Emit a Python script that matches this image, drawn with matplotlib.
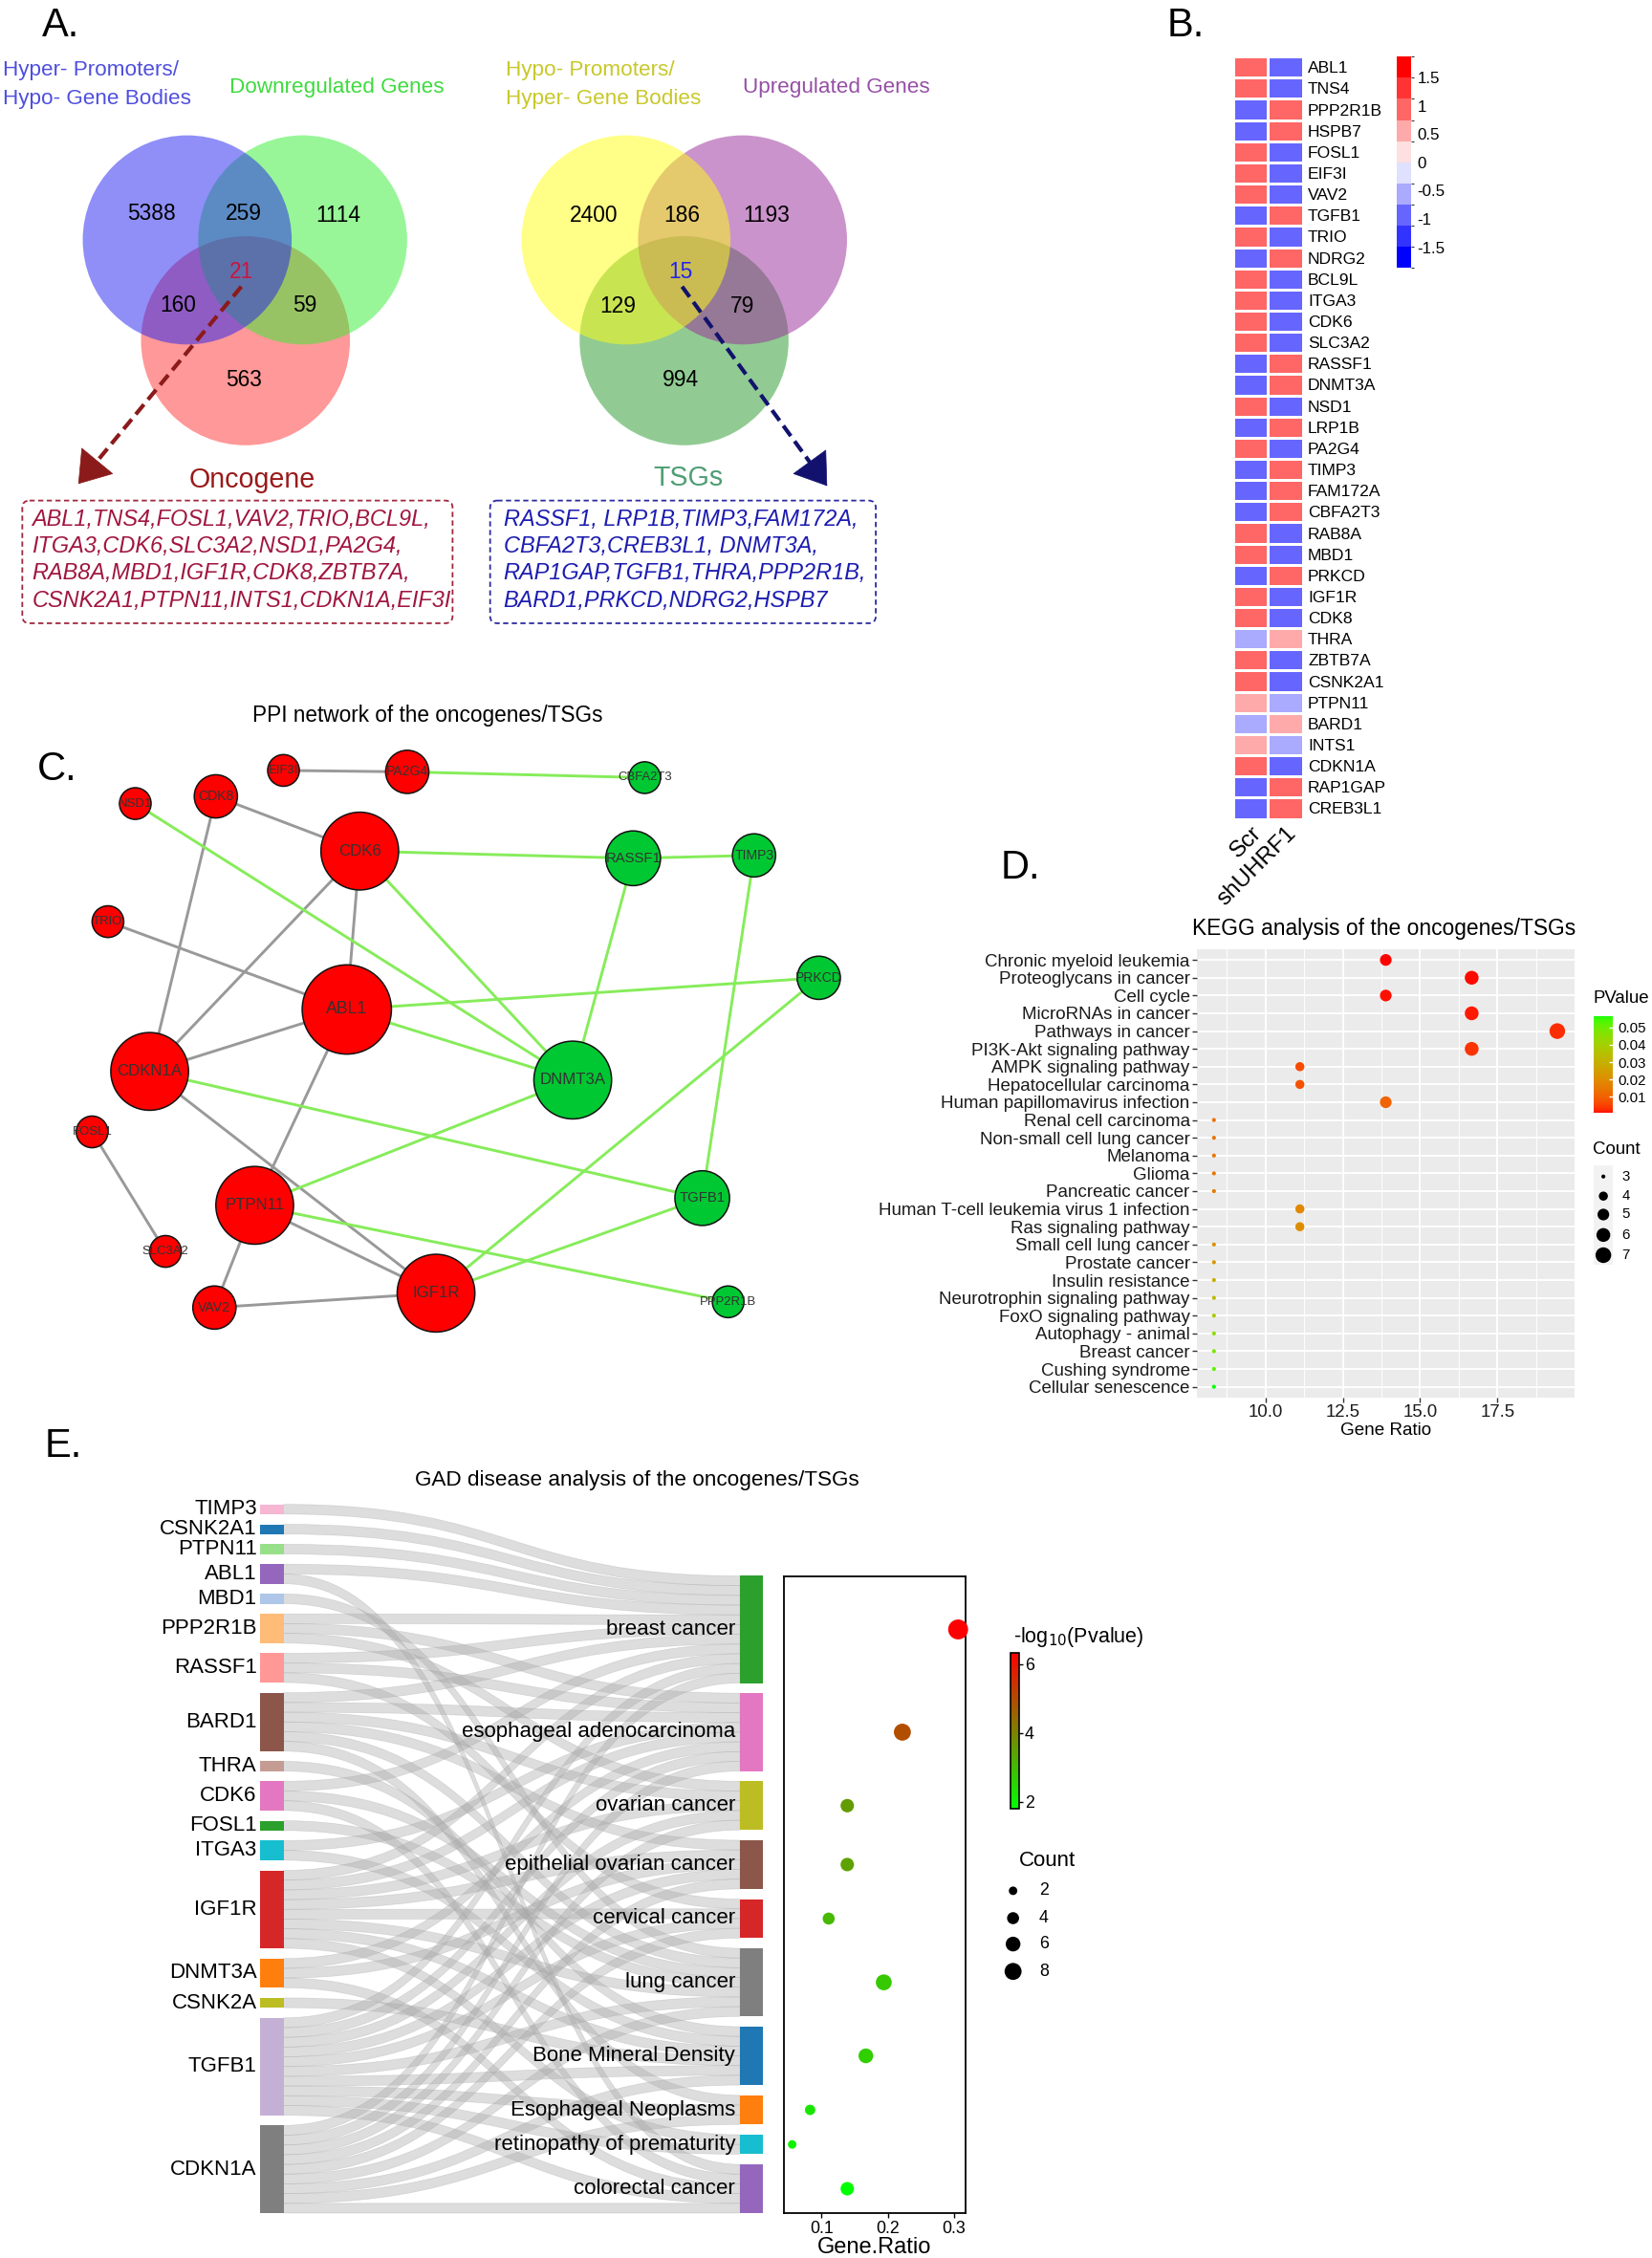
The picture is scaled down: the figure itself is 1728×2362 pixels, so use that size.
import numpy as np
import matplotlib
matplotlib.use("Agg")
import matplotlib.pyplot as plt
from matplotlib.patches import Circle, FancyBboxPatch, Rectangle, PathPatch, FancyArrowPatch
from matplotlib.path import Path
from matplotlib.colors import ListedColormap, BoundaryNorm, Normalize, LinearSegmentedColormap, to_rgb
import matplotlib.cm as cm

plt.rcParams['font.family'] = ['Liberation Sans', 'DejaVu Sans']
plt.rcParams['axes.unicode_minus'] = False

# ======================= DATA =======================
# ---- Panel A (Venn) ----
venn_left_counts = [5388, 259, 1114, 160, 21, 59, 563]   # A, AB, B, AC, ABC, BC, C
venn_right_counts = [2400, 186, 1193, 129, 15, 79, 994]
venn_left_sets = ["Hyper- Promoters/", "Hypo- Gene Bodies", "Downregulated Genes", "Oncogene"]
venn_right_sets = ["Hypo- Promoters/", "Hyper- Gene Bodies", "Upregulated Genes", "TSGs"]
oncogene_lines = ["ABL1,TNS4,FOSL1,VAV2,TRIO,BCL9L,",
                  "ITGA3,CDK6,SLC3A2,NSD1,PA2G4,",
                  "RAB8A,MBD1,IGF1R,CDK8,ZBTB7A,",
                  "CSNK2A1,PTPN11,INTS1,CDKN1A,EIF3I"]
tsg_lines = ["RASSF1, LRP1B,TIMP3,FAM172A,",
             "CBFA2T3,CREB3L1, DNMT3A,",
             "RAP1GAP,TGFB1,THRA,PPP2R1B,",
             "BARD1,PRKCD,NDRG2,HSPB7"]

# ---- Panel B (heatmap) ----
heat_genes = ["ABL1", "TNS4", "PPP2R1B", "HSPB7", "FOSL1", "EIF3I", "VAV2", "TGFB1", "TRIO",
              "NDRG2", "BCL9L", "ITGA3", "CDK6", "SLC3A2", "RASSF1", "DNMT3A", "NSD1", "LRP1B",
              "PA2G4", "TIMP3", "FAM172A", "CBFA2T3", "RAB8A", "MBD1", "PRKCD", "IGF1R", "CDK8",
              "THRA", "ZBTB7A", "CSNK2A1", "PTPN11", "BARD1", "INTS1", "CDKN1A", "RAP1GAP", "CREB3L1"]
heat_scr = [0.95, 0.95, -0.95, -0.95, 0.95, 0.95, 0.95, -0.95, 0.95,
            -0.95, 0.95, 0.95, 0.95, 0.95, -0.95, -0.95, 0.95, -0.95,
            0.95, -0.95, -0.95, -0.95, 0.95, 0.95, -0.95, 0.95, 0.95,
            -0.55, 0.95, 0.95, 0.55, -0.55, 0.55, 0.95, -0.95, -0.95]
heat_sh = [-0.95, -0.95, 0.95, 0.95, -0.95, -0.95, -0.95, 0.95, -0.95,
           0.95, -0.95, -0.95, -0.95, -0.95, 0.95, 0.95, -0.95, 0.95,
           -0.95, 0.95, 0.95, 0.95, -0.95, -0.95, 0.95, -0.95, -0.95,
           0.55, -0.95, -0.95, -0.55, 0.55, -0.55, -0.95, 0.95, 0.95]
heat_samples = ["Scr", "shUHRF1"]
heat_ticks = [1.5, 1, 0.5, 0, -0.5, -1, -1.5]

# ---- Panel C (PPI network) ----
ppi_nodes = ["EIF3I", "PA2G4", "CBFA2T3", "NSD1", "CDK8", "CDK6", "RASSF1", "TIMP3", "TRIO", "PRKCD",
             "ABL1", "CDKN1A", "DNMT3A", "FOSL1", "TGFB1", "PTPN11", "SLC3A2", "PPP2R1B", "VAV2", "IGF1R"]
ppi_type = ["onc", "onc", "tsg", "onc", "onc", "onc", "tsg", "tsg", "onc", "tsg",
            "onc", "onc", "tsg", "onc", "tsg", "onc", "onc", "tsg", "onc", "onc"]
ppi_x = [197, 283, 448, 94, 150, 250, 440, 524, 75, 569, 241, 104, 398, 64, 488, 177, 115, 506, 149, 303]
ppi_y = [535, 536, 540, 558, 553, 591, 596, 594, 640, 679, 701, 744, 750, 786, 832, 837, 869, 904, 908, 898]
ppi_edges = [("EIF3I", "PA2G4"), ("CDK8", "CDK6"), ("CDK8", "CDKN1A"), ("CDK6", "ABL1"), ("CDK6", "CDKN1A"),
             ("TRIO", "ABL1"), ("ABL1", "CDKN1A"), ("ABL1", "PTPN11"), ("CDKN1A", "IGF1R"), ("FOSL1", "SLC3A2"),
             ("PTPN11", "IGF1R"), ("PTPN11", "VAV2"), ("VAV2", "IGF1R"),
             ("PA2G4", "CBFA2T3"), ("NSD1", "DNMT3A"), ("CDK6", "RASSF1"), ("CDK6", "DNMT3A"),
             ("RASSF1", "TIMP3"), ("RASSF1", "DNMT3A"), ("TIMP3", "TGFB1"), ("ABL1", "PRKCD"),
             ("ABL1", "DNMT3A"), ("CDKN1A", "TGFB1"), ("DNMT3A", "PTPN11"), ("PRKCD", "IGF1R"),
             ("TGFB1", "IGF1R"), ("PTPN11", "PPP2R1B")]

# ---- Panel D (KEGG) ----
kegg_terms = ["Chronic myeloid leukemia", "Proteoglycans in cancer", "Cell cycle", "MicroRNAs in cancer",
              "Pathways in cancer", "PI3K-Akt signaling pathway", "AMPK signaling pathway",
              "Hepatocellular carcinoma", "Human papillomavirus infection", "Renal cell carcinoma",
              "Non-small cell lung cancer", "Melanoma", "Glioma", "Pancreatic cancer",
              "Human T-cell leukemia virus 1 infection", "Ras signaling pathway", "Small cell lung cancer",
              "Prostate cancer", "Insulin resistance", "Neurotrophin signaling pathway",
              "FoxO signaling pathway", "Autophagy - animal", "Breast cancer", "Cushing syndrome",
              "Cellular senescence"]
kegg_count = [5, 6, 5, 6, 7, 6, 4, 4, 5, 3, 3, 3, 3, 3, 4, 4, 3, 3, 3, 3, 3, 3, 3, 3, 3]
kegg_ratio = [13.89, 16.67, 13.89, 16.67, 19.44, 16.67, 11.11, 11.11, 13.89, 8.33, 8.33, 8.33, 8.33,
              8.33, 11.11, 11.11, 8.33, 8.33, 8.33, 8.33, 8.33, 8.33, 8.33, 8.33, 8.33]
kegg_p = [0.0006, 0.0009, 0.0012, 0.0016, 0.0030, 0.0035, 0.0065, 0.0075, 0.0105, 0.0135, 0.0140,
          0.0145, 0.0150, 0.0155, 0.0190, 0.0200, 0.0210, 0.0230, 0.0290, 0.0330, 0.0390, 0.0440,
          0.0480, 0.0520, 0.0567]
kegg_size_legend = [3, 4, 5, 6, 7]
kegg_p_ticks = [0.01, 0.02, 0.03, 0.04, 0.05]

# ---- Panel E (GAD) ----
gad_genes = ["TIMP3", "CSNK2A1", "PTPN11", "ABL1", "MBD1", "PPP2R1B", "RASSF1", "BARD1", "THRA", "CDK6",
             "FOSL1", "ITGA3", "IGF1R", "DNMT3A", "CSNK2A", "TGFB1", "CDKN1A"]
gad_gene_colors = ["#f7b6d2", "#1f77b4", "#98df8a", "#9467bd", "#aec7e8", "#ffbb78", "#ff9896", "#8c564b",
                   "#c49c94", "#e377c2", "#2ca02c", "#17becf", "#d62728", "#ff7f0e", "#bcbd22", "#c5b0d5",
                   "#7f7f7f"]
gad_diseases = ["breast cancer", "esophageal adenocarcinoma", "ovarian cancer", "epithelial ovarian cancer",
                "cervical cancer", "lung cancer", "Bone Mineral Density", "Esophageal Neoplasms",
                "retinopathy of prematurity", "colorectal cancer"]
gad_disease_colors = ["#2ca02c", "#e377c2", "#bcbd22", "#8c564b", "#d62728", "#7f7f7f", "#1f77b4",
                      "#ff7f0e", "#17becf", "#9467bd"]
gad_links = [("TIMP3", "breast cancer"), ("CSNK2A1", "breast cancer"), ("PTPN11", "breast cancer"),
             ("ABL1", "breast cancer"), ("ABL1", "colorectal cancer"), ("MBD1", "lung cancer"),
             ("PPP2R1B", "breast cancer"), ("PPP2R1B", "esophageal adenocarcinoma"), ("PPP2R1B", "ovarian cancer"),
             ("RASSF1", "breast cancer"), ("RASSF1", "esophageal adenocarcinoma"), ("RASSF1", "cervical cancer"),
             ("BARD1", "breast cancer"), ("BARD1", "esophageal adenocarcinoma"), ("BARD1", "ovarian cancer"),
             ("BARD1", "epithelial ovarian cancer"), ("BARD1", "lung cancer"), ("BARD1", "Esophageal Neoplasms"),
             ("THRA", "Bone Mineral Density"),
             ("CDK6", "breast cancer"), ("CDK6", "lung cancer"), ("CDK6", "colorectal cancer"),
             ("FOSL1", "lung cancer"),
             ("ITGA3", "esophageal adenocarcinoma"), ("ITGA3", "Bone Mineral Density"),
             ("IGF1R", "breast cancer"), ("IGF1R", "esophageal adenocarcinoma"), ("IGF1R", "ovarian cancer"),
             ("IGF1R", "epithelial ovarian cancer"), ("IGF1R", "cervical cancer"), ("IGF1R", "lung cancer"),
             ("IGF1R", "Bone Mineral Density"), ("IGF1R", "retinopathy of prematurity"),
             ("DNMT3A", "esophageal adenocarcinoma"), ("DNMT3A", "epithelial ovarian cancer"),
             ("DNMT3A", "colorectal cancer"),
             ("CSNK2A", "Bone Mineral Density"),
             ("TGFB1", "breast cancer"), ("TGFB1", "esophageal adenocarcinoma"), ("TGFB1", "ovarian cancer"),
             ("TGFB1", "epithelial ovarian cancer"), ("TGFB1", "cervical cancer"), ("TGFB1", "lung cancer"),
             ("TGFB1", "Bone Mineral Density"), ("TGFB1", "Esophageal Neoplasms"),
             ("TGFB1", "retinopathy of prematurity"), ("TGFB1", "colorectal cancer"),
             ("CDKN1A", "breast cancer"), ("CDKN1A", "esophageal adenocarcinoma"), ("CDKN1A", "ovarian cancer"),
             ("CDKN1A", "epithelial ovarian cancer"), ("CDKN1A", "cervical cancer"), ("CDKN1A", "lung cancer"),
             ("CDKN1A", "Bone Mineral Density"), ("CDKN1A", "Esophageal Neoplasms"),
             ("CDKN1A", "colorectal cancer")]
gad_count = [11, 8, 5, 5, 4, 7, 6, 3, 2, 5]
gad_ratio = [0.306, 0.222, 0.139, 0.139, 0.111, 0.194, 0.167, 0.083, 0.056, 0.139]
gad_neglogp = [6.34, 4.95, 3.55, 3.45, 3.05, 2.75, 2.65, 2.25, 2.05, 1.79]
gad_size_legend = [2, 4, 6, 8]
gad_p_ticks = [2, 4, 6]

# ======================= LAYOUT HELPERS =======================
W, H = 1148.0, 1568.0          # layout units (1 unit = 1728/1148 px)


def rect(x0, y0, x1, y1):
    return [x0 / W, 1 - y1 / H, (x1 - x0) / W, (y1 - y0) / H]


def _lin(c):
    c = np.asarray(c, float)
    return np.where(c <= 0.04045, c / 12.92, ((c + 0.055) / 1.055) ** 2.4)


def _gam(c):
    c = np.clip(c, 0, None)
    return np.where(c <= 0.0031308, 12.92 * c, 1.055 * np.power(c, 1 / 2.4) - 0.055)


_M = np.array([[0.4124564, 0.3575761, 0.1804375], [0.2126729, 0.7151522, 0.0721750],
               [0.0193339, 0.1191920, 0.9503041]])
_WT = np.array([0.95047, 1.0, 1.08883])


def rgb2lab(rgb):
    xyz = _M @ _lin(rgb) / _WT
    f = np.where(xyz > 0.008856, np.cbrt(xyz), 7.787 * xyz + 16 / 116)
    return np.array([116 * f[1] - 16, 500 * (f[0] - f[1]), 200 * (f[1] - f[2])])


def lab2rgb(lab):
    L, a, b = lab
    fy = (L + 16) / 116
    f = np.array([fy + a / 500, fy, fy - b / 200])
    xyz = np.where(f ** 3 > 0.008856, f ** 3, (f - 16 / 116) / 7.787) * _WT
    rgb = np.linalg.solve(_M, xyz)
    return np.clip(_gam(rgb), 0, 1)


def lab_cmap(c0, c1, n=256):
    l0, l1 = rgb2lab(np.array(to_rgb(c0))), rgb2lab(np.array(to_rgb(c1)))
    return ListedColormap([lab2rgb(l0 + (l1 - l0) * t) for t in np.linspace(0, 1, n)])


fig = plt.figure(figsize=(17.28, 23.62), dpi=100)
ov = fig.add_axes([0, 0, 1, 1])
ov.set_xlim(0, W)
ov.set_ylim(H, 0)
ov.axis('off')

# panel letters
for lab, x, y in [("A.", 29, 25), ("B.", 811, 25), ("C.", 26, 542), ("D.", 695, 610), ("E.", 31, 1012)]:
    ov.text(x, y, lab, fontsize=30, ha='left', va='baseline', color='black')

# ======================= PANEL A =======================
R = 72.6
venn_layouts = [
    dict(centers=[(130.1, 166.6), (210.3, 166.6), (170.6, 236.6)],
         fills=[("#2121F0", 0.5), ("#33EE33", 0.5), ("#FF3333", 0.5)], order=[2, 1, 0],
         pos=[(105.2, 148.6), (169.4, 148.6), (234.8, 149.4), (124, 212), (167.7, 189), (212, 212), (169.4, 264)],
         counts=venn_left_counts, center_color="#CC1440",
         labels=[(1.8, 49, "#4F4FDF"), (1.8, 68.4, "#4F4FDF"), (159.5, 60.6, "#3EDB3E")],
         names=venn_left_sets, title_pos=(175, 333), title_color="#9A1A1A",
         arrow=((167.7, 199), (53.2, 337.5)), arrow_color="#8B1A1A",
         box=(15.5, 347.6, 314.5, 432.8), box_color="#A0283C", text_x=22.2, text_color="#A0163F",
         lines=oncogene_lines),
    dict(centers=[(435.0, 166.6), (516.0, 166.6), (475.4, 236.6)],
         fills=[("#FFFF10", 0.5), ("#992999", 0.5), ("#249928", 0.5)], order=[2, 1, 0],
         pos=[(412.4, 150), (474, 150), (532.7, 150), (429.2, 213), (472.9, 189), (516, 213), (472.9, 264)],
         counts=venn_right_counts, center_color="#2222EE",
         labels=[(351.7, 49, "#C8C82A"), (351.7, 68.4, "#C8C82A"), (516, 60.6, "#9550A5")],
         names=venn_right_sets, title_pos=(478.4, 332), title_color="#4E9E74",
         arrow=((474, 199), (575.9, 339)), arrow_color="#12126E",
         box=(340.6, 347.6, 608.6, 432.8), box_color="#2B2BA0", text_x=349.9, text_color="#1C1CB0",
         lines=tsg_lines),
]
for v in venn_layouts:
    for k in v['order']:
        c, a = v['fills'][k]
        ov.add_patch(Circle(v['centers'][k], R, facecolor=c, alpha=a, edgecolor='none', zorder=2))
    for i, ((x, y), n) in enumerate(zip(v['pos'], v['counts'])):
        ov.text(x, y, str(n), fontsize=16.4, ha='center', va='center', zorder=5,
                color=v['center_color'] if i == 4 else 'black')
    for (x, y, col), name in zip(v['labels'], v['names'][:3]):
        ov.text(x, y, name, fontsize=16.2, ha='left', va='center', color=col)
    ov.text(v['title_pos'][0], v['title_pos'][1], v['names'][3], fontsize=20.6, ha='center', va='center',
            color=v['title_color'])
    (sx, sy), (tx, ty) = v['arrow']
    dx, dy = tx - sx, ty - sy
    L = np.hypot(dx, dy)
    ex, ey = tx - dx / L * 14, ty - dy / L * 14
    ov.plot([sx, ex], [sy, ey], color=v['arrow_color'], lw=3.0, linestyle=(0, (3.2, 1.6)),
            solid_capstyle='butt', zorder=6)
    ov.add_patch(FancyArrowPatch((tx - dx / L * 22, ty - dy / L * 22), (tx, ty),
                                 arrowstyle='-|>,head_length=1.1,head_width=0.75', mutation_scale=20,
                                 color=v['arrow_color'], lw=0.5, zorder=7))
    x0, y0, x1, y1 = v['box']
    ov.add_patch(FancyBboxPatch((x0, y0), x1 - x0, y1 - y0, boxstyle='round,pad=0,rounding_size=5',
                                facecolor='none', edgecolor=v['box_color'], lw=1.3,
                                linestyle=(0, (3, 2))))
    for j, line in enumerate(v['lines']):
        ov.text(v['text_x'], 360.6 + 18.77 * j, line, fontsize=16.9, style='italic', ha='left',
                va='center', color=v['text_color'])

# ======================= PANEL B =======================
hb_cols = ['#0000FF', '#3333FF', '#6666FF', '#AAAAFF', '#E0E0FF',
           '#FFE0E0', '#FFAAAA', '#FF6666', '#FF3333', '#FF0000']
hb_cmap = ListedColormap(hb_cols)
hb_bounds = np.linspace(-1.87, 1.87, 11)
hb_norm = BoundaryNorm(hb_bounds, hb_cmap.N)
axh = fig.add_axes(rect(857.2, 39.3, 905.2, 568.6))
vals = np.column_stack([heat_scr, heat_sh])
axh.pcolormesh(vals, cmap=hb_cmap, norm=hb_norm, edgecolors='white', linewidth=0.9)
axh.set_xlim(0, 2)
axh.set_ylim(len(heat_genes), 0)
for s in axh.spines.values():
    s.set_visible(False)
axh.yaxis.tick_right()
axh.set_yticks(np.arange(len(heat_genes)) + 0.5)
axh.set_yticklabels(heat_genes, fontsize=12.6)
axh.set_xticks([0.5, 1.5])
axh.set_xticklabels(heat_samples, fontsize=17.5, rotation=45, ha='right', rotation_mode='anchor')
axh.tick_params(length=0, pad=4)
axh.tick_params(axis='x', pad=3)
caxh = fig.add_axes(rect(970.8, 39.3, 980.8, 186.2))
cbh = fig.colorbar(cm.ScalarMappable(norm=hb_norm, cmap=hb_cmap), cax=caxh, ticks=heat_ticks)
cbh.outline.set_visible(False)
cbh.set_ticklabels([("%g" % t) for t in heat_ticks])
caxh.tick_params(length=0, labelsize=12.2, pad=4.5)

# ======================= PANEL C =======================
ov.text(296.8, 497, "PPI network of the oncogenes/TSGs", fontsize=16.3, ha='center', va='center')
idx = {n: i for i, n in enumerate(ppi_nodes)}
deg = {n: 0 for n in ppi_nodes}
for a, b in ppi_edges:
    deg[a] += 1
    deg[b] += 1
for a, b in ppi_edges:
    ia, ib = idx[a], idx[b]
    col = '#999999' if (ppi_type[ia] == 'onc' and ppi_type[ib] == 'onc') else '#86EC5A'
    ov.plot([ppi_x[ia], ppi_x[ib]], [ppi_y[ia], ppi_y[ib]], color=col, lw=2.1, zorder=3,
            solid_capstyle='round')
for i, n in enumerate(ppi_nodes):
    r = 7 + 4 * deg[n]
    fc = '#FF0000' if ppi_type[i] == 'onc' else '#00C832'
    ov.add_patch(Circle((ppi_x[i], ppi_y[i]), r, facecolor=fc, edgecolor='#111111', lw=1.1, zorder=4))
    ov.text(ppi_x[i], ppi_y[i], n, fontsize=8.8 + 0.65 * deg[n], ha='center', va='center',
            color='#333333', zorder=5)

# ======================= PANEL D =======================
ov.text(961.8, 645, "KEGG analysis of the oncogenes/TSGs", fontsize=16.4, ha='center', va='center')
axk = fig.add_axes(rect(832, 659.2, 1094, 970.4))
axk.set_facecolor('#EBEBEB')
for s in axk.spines.values():
    s.set_visible(False)
kegg_cmap = lab_cmap('#FF0000', '#00FF00')
kegg_norm = Normalize(vmin=min(kegg_p), vmax=max(kegg_p))


def kegg_size(c):
    c = np.asarray(c, float)
    d = 3.0 + (11.8 - 3.0) * ((c - 3) / 4.0) ** 0.6
    return d ** 2


ny = len(kegg_terms)
yy = np.arange(ny)
axk.set_xlim(7.79, 19.99)
axk.set_ylim(ny - 0.4, -0.6)
axk.set_xticks([10, 12.5, 15, 17.5])
axk.set_xticklabels(["10.0", "12.5", "15.0", "17.5"])
axk.set_xticks([8.75, 11.25, 13.75, 16.25, 18.75], minor=True)
axk.set_yticks(yy)
axk.set_yticklabels(kegg_terms)
axk.grid(which='major', color='white', lw=1.3)
axk.grid(which='minor', axis='x', color='white', lw=0.65)
axk.set_axisbelow(True)
axk.tick_params(which='major', length=3.5, width=1, color='#333333', labelsize=13.4, labelcolor='#1a1a1a',
                pad=2)
axk.tick_params(axis='y', labelsize=13.5)
axk.tick_params(which='minor', length=0)
axk.scatter(kegg_ratio, yy, s=kegg_size(kegg_count), c=kegg_p, cmap=kegg_cmap, norm=kegg_norm,
            edgecolors='none', zorder=3)
axk.set_xlabel("Gene Ratio", fontsize=13.6, labelpad=1)
# PValue legend
ov.text(1107, 693.5, "PValue", fontsize=13.4, ha='left', va='center')
caxk = fig.add_axes(rect(1107.5, 705.4, 1120.5, 773))
cbk = fig.colorbar(cm.ScalarMappable(norm=kegg_norm, cmap=kegg_cmap), cax=caxk, ticks=kegg_p_ticks)
cbk.outline.set_visible(False)
cbk.set_ticklabels(["%.2f" % t for t in kegg_p_ticks])
caxk.tick_params(length=3, width=1, color='white', direction='in', labelsize=10.8, pad=4.5)
# Count legend
ov.text(1107, 798.5, "Count", fontsize=13.4, ha='left', va='center')
ov.add_patch(Rectangle((1107.5, 809.5), 13.5, 68.5, facecolor='#F2F2F2', edgecolor='none'))
ky = [817, 830.6, 843.4, 857.6, 871.6]
ov.scatter([1114.2] * len(kegg_size_legend), ky, s=kegg_size(kegg_size_legend), c='black',
           edgecolors='none', zorder=5)
for yv, c in zip(ky, kegg_size_legend):
    ov.text(1127, yv, str(c), fontsize=10.8, ha='left', va='center')

# ======================= PANEL E =======================
ov.text(442.5, 1028, "GAD disease analysis of the oncogenes/TSGs", fontsize=16.2, ha='center', va='center')
U = 6.76
GAP = 7.1
BOTTOM = 1536.8
LX0, LX1, RX0, RX1 = 181.0, 197.0, 514.0, 530.0
gcount = {g: sum(1 for l in gad_links if l[0] == g) for g in gad_genes}
dcount = {d: sum(1 for l in gad_links if l[1] == d) for d in gad_diseases}
ltop = BOTTOM - len(gad_links) * U - (len(gad_genes) - 1) * GAP
rtop = BOTTOM - len(gad_links) * U - (len(gad_diseases) - 1) * GAP
gy0, y = {}, ltop
for g in gad_genes:
    gy0[g] = y
    y += gcount[g] * U + GAP
dy0, y = {}, rtop
for d in gad_diseases:
    dy0[d] = y
    y += dcount[d] * U + GAP
gi = {g: i for i, g in enumerate(gad_genes)}
di = {d: i for i, d in enumerate(gad_diseases)}
s_off, t_off = {}, {}
for g in gad_genes:
    o = gy0[g]
    for l in sorted([l for l in gad_links if l[0] == g], key=lambda l: di[l[1]]):
        s_off[l] = o
        o += U
for d in gad_diseases:
    o = dy0[d]
    for l in sorted([l for l in gad_links if l[1] == d], key=lambda l: gi[l[0]]):
        t_off[l] = o
        o += U
xm = (LX1 + RX0) / 2
for l in gad_links:
    sy, ty = s_off[l], t_off[l]
    verts = [(LX1, sy), (xm, sy), (xm, ty), (RX0, ty), (RX0, ty + U), (xm, ty + U), (xm, sy + U), (LX1, sy + U),
             (LX1, sy)]
    codes = [Path.MOVETO, Path.CURVE4, Path.CURVE4, Path.CURVE4, Path.LINETO, Path.CURVE4, Path.CURVE4,
             Path.CURVE4, Path.CLOSEPOLY]
    ov.add_patch(PathPatch(Path(verts, codes), facecolor='#a8a8a8', alpha=0.38, edgecolor='#a8a8a8',
                           lw=0.5, zorder=2))
for g, col in zip(gad_genes, gad_gene_colors):
    h = gcount[g] * U
    ov.add_patch(Rectangle((LX0, gy0[g]), LX1 - LX0, h, facecolor=col, edgecolor='none', zorder=3))
    ov.text(LX0 - 2.5, gy0[g] + h / 2, g, fontsize=16, ha='right', va='center', zorder=4)
dcenter = []
for d, col in zip(gad_diseases, gad_disease_colors):
    h = dcount[d] * U
    ov.add_patch(Rectangle((RX0, dy0[d]), RX1 - RX0, h, facecolor=col, edgecolor='none', zorder=3))
    ov.text(RX0 - 3, dy0[d] + h / 2, d, fontsize=16, ha='right', va='center', zorder=4)
    dcenter.append(dy0[d] + h / 2)

# dot plot
axg = fig.add_axes(rect(544.5, 1094.6, 670.9, 1537))
gad_cmap = LinearSegmentedColormap.from_list('gr', ['#00FF00', '#FF0000'])
gad_norm = Normalize(vmin=min(gad_neglogp), vmax=max(gad_neglogp))
axg.scatter(gad_ratio, dcenter, s=np.array(gad_count) * 20.5, c=gad_neglogp, cmap=gad_cmap, norm=gad_norm,
            edgecolors='none', zorder=3, clip_on=False)
axg.set_xlim(0.043, 0.317)
axg.set_ylim(1537, 1094.6)
axg.set_yticks([])
axg.set_xticks([0.1, 0.2, 0.3])
axg.set_xticklabels(["0.1", "0.2", "0.3"])
axg.tick_params(axis='x', length=3.5, width=1, labelsize=12.8, pad=2)
for s in axg.spines.values():
    s.set_linewidth(1.3)
axg.set_xlabel("Gene.Ratio", fontsize=17, labelpad=0)
# colour legend
ov.text(704, 1137, r"-log$_{10}$(Pvalue)", fontsize=15.5, ha='left', va='center')
caxg = fig.add_axes(rect(702, 1147.5, 708, 1256.3))
cbg = fig.colorbar(cm.ScalarMappable(norm=gad_norm, cmap=gad_cmap), cax=caxg, ticks=gad_p_ticks)
cbg.outline.set_linewidth(1.2)
cbg.set_ticklabels([str(t) for t in gad_p_ticks])
caxg.tick_params(length=3, width=1, labelsize=12.8, pad=1.5)
# size legend
ov.text(708, 1292, "Count", fontsize=16, ha='left', va='center')
gy = [1313, 1332, 1350, 1369]
ov.scatter([704] * len(gad_size_legend), gy, s=np.array(gad_size_legend) * 20.5, c='black',
           edgecolors='none', zorder=5)
for yv, c in zip(gy, gad_size_legend):
    ov.text(722, yv, str(c), fontsize=12.8, ha='left', va='center')

fig.savefig("out.png", dpi=100)
